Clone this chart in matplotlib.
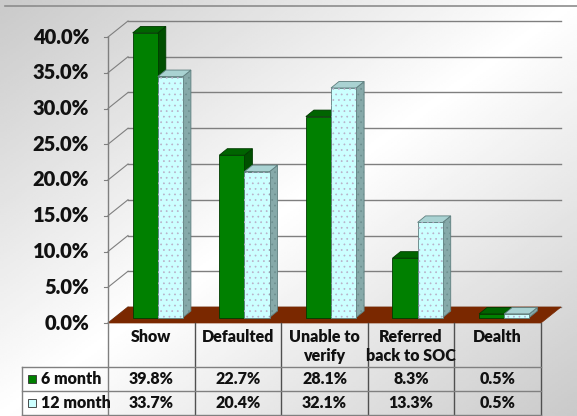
import matplotlib
matplotlib.use('Agg')
import matplotlib.pyplot as plt
from matplotlib.patches import Polygon, Rectangle
import numpy as np

plt.rcParams.update({
    "font.family": ["Lato", "DejaVu Sans"],
    "hatch.linewidth": 0.5,
})
FW = "heavy"

# data
categories = ["Show", "Defaulted", "Unable to\nverify", "Referred\nback to SOC", "Dealth"]
series_names = ["6 month", "12 month"]
six_month = [39.8, 22.7, 28.1, 8.3, 0.5]
twelve_month = [33.7, 20.4, 32.1, 13.3, 0.5]
yticks = [0, 5, 10, 15, 20, 25, 30, 35, 40]

# colours: front, top, side, edge
GREEN = ("#008000", "#006400", "#004f00", "#003a00")
CYAN = ("#ccffff", "#a9d2d2", "#86a9a9", "#5e7e7e")
FLOOR = "#7a2800"
GRID = "#7f7f7f"

W, H = 577, 416
X0, Y0 = 108, 323          # pixel position of (0, 0%)
SX, SY = 86.6, 7.15        # pixels per category / per percent


def px(xp, yp):
    """pixel (from top-left) -> data coords"""
    return (xp - X0) / SX, (Y0 - yp) / SY


fig = plt.figure(figsize=(W / 100, H / 100), dpi=100)
ax = fig.add_axes([0, 0, 1, 1])
xmin, ymax = px(0, 0)
xmax, ymin = px(W, H)
ax.set_xlim(xmin, xmax)
ax.set_ylim(ymin, ymax)
ax.axis("off")

# background gradient (dark at top-left / bottom-right corners)
gx, gy = np.meshgrid(np.linspace(0, 1, 200), np.linspace(0, 1, 200))
grad = 1 - 0.21 * np.abs(gx + gy - 1)
ax.imshow(grad, cmap="gray", vmin=0, vmax=1, extent=[xmin, xmax, ymin, ymax],
          aspect="auto", origin="upper", zorder=0)

# depth vectors (data units)
WDX, WDY = 20 / SX, 16 / SY      # wall depth
BOX, BOY = 6.5 / SX, 5.5 / SY    # bar front offset
BDX, BDY = 8 / SX, 6.5 / SY      # bar depth
n = len(categories)

# outer top border
bx0, by0 = px(5, 6)
bx1, _ = px(W, 6)
ax.plot([bx0, bx1], [by0, by0], color="#8c8c8c", lw=1.2, zorder=1)

# gridlines on back wall + side wall
for t in yticks:
    ax.plot([WDX, n + WDX], [t + WDY, t + WDY], color=GRID, lw=1.0, zorder=1)
    ax.plot([0, WDX], [t, t + WDY], color=GRID, lw=0.8, zorder=1)
    ax.plot([-4 / SX, 0], [t, t], color=GRID, lw=0.8, zorder=1)
    ax.text(-19 / SX, t, f"{t:.1f}%", ha="right", va="center", fontsize=14.5,
            fontweight=FW, color="#111111", zorder=5)

# floor
floor = Polygon([(0, 0), (n, 0), (n + WDX, WDY), (WDX, WDY)], closed=True,
                facecolor=FLOOR, edgecolor=FLOOR, lw=0.5, zorder=2)
ax.add_patch(floor)


def bar3d(x, w, h, cols, hatch=None):
    fr, tp, sd, ed = cols
    xl, yb = x + BOX, BOY
    front = Rectangle((xl, yb), w, h, facecolor=fr, edgecolor=ed, lw=0.6, zorder=3)
    top = Polygon([(xl, yb + h), (xl + w, yb + h), (xl + w + BDX, yb + h + BDY),
                   (xl + BDX, yb + h + BDY)], facecolor=tp, edgecolor=ed, lw=0.6, zorder=3)
    side = Polygon([(xl + w, yb), (xl + w + BDX, yb + BDY), (xl + w + BDX, yb + h + BDY),
                    (xl + w, yb + h)], facecolor=sd, edgecolor=ed, lw=0.6, zorder=3)
    ax.add_patch(side)
    ax.add_patch(top)
    ax.add_patch(front)
    if hatch:
        ax.add_patch(Rectangle((xl, yb), w, h, facecolor="none", edgecolor="#b8b0c8",
                               lw=0, hatch=hatch, zorder=3.1))
        ax.add_patch(Polygon([(xl + w, yb), (xl + w + BDX, yb + BDY),
                              (xl + w + BDX, yb + h + BDY), (xl + w, yb + h)],
                             facecolor="none", edgecolor="#6d8f8f", lw=0, hatch=hatch,
                             zorder=3.1))


BW = 0.29
for i in range(n):
    bar3d(i + 0.21, BW, six_month[i], GREEN)
    bar3d(i + 0.21 + BW, BW, twelve_month[i], CYAN, hatch="...")

# front axis line
_, ybot = px(0, 415)
ax.plot([0, 0], [ybot, 40], color=GRID, lw=1.0, zorder=4)

# data table
_, yr1 = px(0, 367)
_, yr2 = px(0, 391)
_, yr3 = px(0, 415)
xl_tab, _ = px(22, 0)
TCOL = "#505050"
for i in range(1, n + 1):
    ax.plot([i, i], [0, yr3], color=TCOL, lw=1.0, zorder=4)
for yy in (yr1, yr2, yr3):
    ax.plot([xl_tab, n], [yy, yy], color="#808080", lw=1.0, zorder=4)
ax.plot([xl_tab, xl_tab], [yr1, yr3], color="#808080", lw=1.0, zorder=4)

_, yhead = px(0, 329)
for i, c in enumerate(categories):
    ax.text(i + 0.5, yhead, c, ha="center", va="top", fontsize=11.5,
            fontweight=FW, linespacing=1.25, color="#111111", zorder=5)

rows = [six_month, twelve_month]
row_y = [(yr1 + yr2) / 2, (yr2 + yr3) / 2]
keys = [GREEN, CYAN]
for r, vals in enumerate(rows):
    for i, v in enumerate(vals):
        ax.text(i + 0.5, row_y[r], f"{v:.1f}%", ha="center", va="center",
                fontsize=11.5, fontweight=FW, color="#111111", zorder=5)
    kx, _ = px(28, 0)
    ax.add_patch(Rectangle((kx, row_y[r] - 4 / SY), 8 / SX, 8 / SY,
                           facecolor=keys[r][0], edgecolor="#303030", lw=0.6,
                           zorder=5))
    tx, _ = px(41, 0)
    ax.text(tx, row_y[r], series_names[r], ha="left", va="center", fontsize=11.5,
            fontweight=FW, color="#111111", zorder=5)

fig.savefig("out.png", dpi=100)
